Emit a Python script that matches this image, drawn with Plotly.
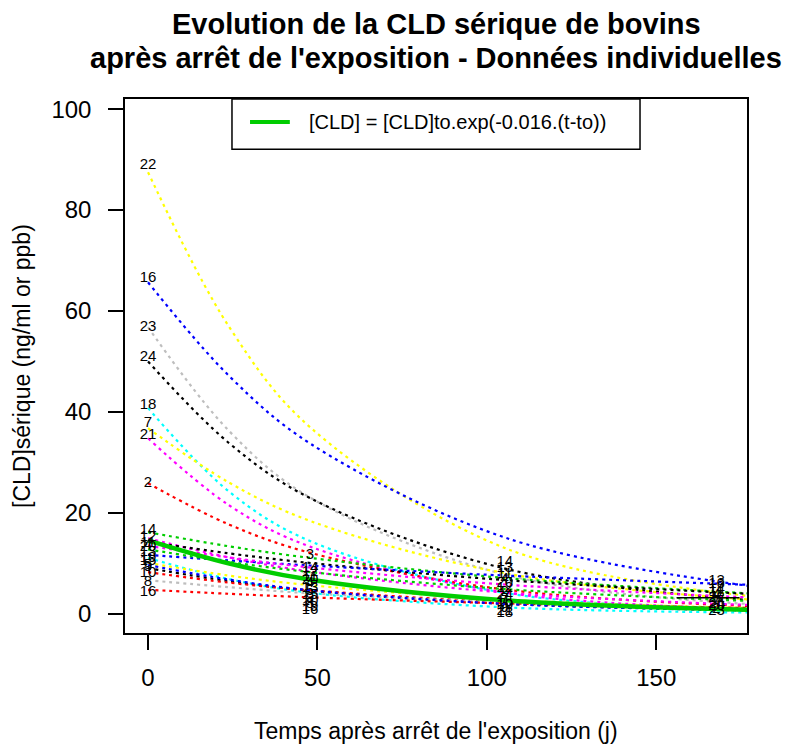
import plotly.graph_objects as go

FONT = "Liberation Sans, Arial, sans-serif"

# sampling times (days after end of exposure) used to trace each individual curve
times = [0, 24, 48, 106, 177]

animal_ids = ["22", "16", "23", "24", "18", "7", "21", "2",
              "14", "12", "11", "13", "19", "15", "9", "10", "8", "16", "5", "20", "4"]
animal_colors = ["#FFFF00", "#0000FF", "#BEBEBE", "#000000", "#00FFFF", "#FFFF00", "#FF00FF", "#FF0000",
                 "#00CD00", "#FF00FF", "#000000", "#0000FF", "#00FFFF", "#FFFF00", "#000000", "#FF0000",
                 "#BEBEBE", "#FF0000", "#0000FF", "#00CD00", "#FF00FF"]
conc_t0 = [87.5, 65.7, 56.8, 50.0, 40.8, 36.8, 34.8, 25.9,
           16.2, 15.0, 14.3, 11.7, 11.1, 10.1, 9.1, 8.3, 6.7, 4.8, 9.7, 12.8, 13.5]
conc_t24 = [56.8, 47.1, 36.2, 33.8, 24.2, 26.0, 21.5, 17.7,
            13.4, 11.2, 12.0, 10.6, 6.9, 7.6, 6.5, 6.2, 5.3, 4.0, 6.8, 10.3, 11.2]
conc_t48 = [36.9, 33.7, 23.0, 22.9, 14.4, 18.4, 13.3, 12.1,
            11.1, 8.4, 10.1, 9.6, 4.2, 5.7, 4.6, 4.7, 4.1, 3.3, 4.7, 8.3, 9.2]
conc_t106 = [12.9, 15.0, 7.7, 8.9, 4.1, 8.0, 4.2, 4.8,
             7.1, 4.2, 6.7, 7.6, 1.3, 2.8, 2.0, 2.3, 2.3, 2.1, 2.0, 4.9, 5.8]
conc_t177 = [3.6, 5.6, 2.0, 2.8, 0.9, 2.9, 1.0, 1.6,
             4.1, 1.8, 4.0, 5.8, 0.3, 1.2, 0.8, 1.0, 1.1, 1.2, 0.7, 2.6, 3.3]
label_y0 = [88.9, 66.5, 56.8, 50.9, 41.4, 37.8, 35.4, 25.9,
            16.6, 15.2, 14.0, 12.3, 11.0, 10.4, 9.2, 8.0, 6.2, 4.3, 9.6, 13.2, 13.6]

# population model [CLD] = [CLD]to.exp(-0.016.(t-to))
mean_conc = [14.6, 10.0, 6.8, 2.7, 0.86]

# labelled observations at the three later sampling dates
obs1_t = 47.8
obs1_ids = ["3", "14", "12", "11", "20", "4", "13", "5", "15", "9", "10", "8", "19", "16"]
obs1_y = [11.7, 9.0, 8.2, 7.3, 6.6, 6.0, 5.2, 4.5, 3.8, 3.1, 2.5, 1.9, 1.3, 0.7]
obs2_t = 105.3
obs2_ids = ["14", "13", "11", "4", "20", "12", "2", "24", "7", "15", "10", "9", "21", "18"]
obs2_y = [10.3, 9.0, 7.8, 6.8, 6.0, 5.2, 4.4, 3.7, 3.0, 2.4, 1.8, 1.2, 0.6, 0.2]
obs3_t = 167.8
obs3_ids = ["13", "16", "14", "11", "4", "22", "7", "24", "20", "2", "23"]
obs3_y = [6.5, 5.8, 5.0, 4.4, 3.8, 3.2, 2.6, 2.0, 1.5, 1.0, 0.5]
seg_t = [156, 174.6]
seg_y = [3.2, 3.2]

fig = go.Figure()

for i, aid in enumerate(animal_ids):
    ys = [conc_t0[i], conc_t24[i], conc_t48[i], conc_t106[i], conc_t177[i]]
    fig.add_trace(go.Scatter(
        x=times, y=ys, mode="lines", line_shape="spline",
        line=dict(color=animal_colors[i], width=2.2, dash="3px,4px"),
        showlegend=False, hoverinfo="skip",
    ))

fig.add_trace(go.Scatter(
    x=times, y=mean_conc, mode="lines", line_shape="spline",
    line=dict(color="#00CD00", width=4.5),
    name="[CLD] = [CLD]to.exp(-0.016.(t-to))", showlegend=False,
))

fig.add_trace(go.Scatter(x=seg_t, y=seg_y, mode="lines",
                         line=dict(color="black", width=1.5), showlegend=False))

label_font = dict(family=FONT, size=15, color="black")
fig.add_trace(go.Scatter(x=[0] * len(animal_ids), y=label_y0, mode="text",
                         text=animal_ids, textfont=label_font, showlegend=False))
for t, ids, ys in [(obs1_t, obs1_ids, obs1_y), (obs2_t, obs2_ids, obs2_y), (obs3_t, obs3_ids, obs3_y)]:
    fig.add_trace(go.Scatter(x=[t] * len(ids), y=ys, mode="text",
                             text=ids, textfont=label_font, showlegend=False))

axis_common = dict(
    showline=True, linecolor="black", linewidth=1.5, mirror=True,
    ticks="outside", ticklen=15, tickcolor="black", tickwidth=1.5,
    showgrid=False, zeroline=False,
    tickfont=dict(family=FONT, size=24, color="black"),
)
fig.update_xaxes(range=[-6.8, 176.8], tickvals=[0, 50, 100, 150],
                 ticklabelstandoff=7, **axis_common)
fig.update_yaxes(range=[-3.76, 102], tickvals=[0, 20, 40, 60, 80, 100],
                 ticklabelstandoff=12, **axis_common)

# legend box drawn on top of the plot area
fig.add_shape(type="rect", xref="paper", yref="paper", x0=0.172, x1=0.828, y0=0.906, y1=1.0,
              line=dict(color="black", width=1.5), fillcolor="white", layer="above")
fig.add_shape(type="line", xref="paper", yref="paper", x0=0.201, x1=0.265, y0=0.957, y1=0.957,
              line=dict(color="#00CD00", width=4), layer="above")

# the page body has an 8px margin, so the figure is shrunk by that amount
fig.update_layout(
    width=795, height=741,
    margin=dict(l=117, r=56, t=91, b=116),
    paper_bgcolor="white", plot_bgcolor="white",
    font=dict(family=FONT, color="black"),
    annotations=[
        dict(text="[CLD] = [CLD]to.exp(-0.016.(t-to))", xref="paper", yref="paper",
             x=0.293, y=0.957, xanchor="left", yanchor="middle", showarrow=False,
             font=dict(family=FONT, size=20, color="black")),
        dict(text="<b>Evolution de la CLD sérique de bovins</b>", xref="paper", yref="paper",
             x=0.5, y=1.1404, xanchor="center", yanchor="middle", showarrow=False,
             font=dict(family=FONT, size=29, color="black")),
        dict(text="<b>après arrêt de l'exposition - Données individuelles</b>", xref="paper", yref="paper",
             x=0.5, y=1.0768, xanchor="center", yanchor="middle", showarrow=False,
             font=dict(family=FONT, size=29, color="black")),
        dict(text="Temps après arrêt de l'exposition (j)", xref="paper", yref="paper",
             x=0.5, y=-0.1835, xanchor="center", yanchor="middle", showarrow=False,
             font=dict(family=FONT, size=23, color="black")),
        dict(text="[CLD]sérique (ng/ml or ppb)", xref="paper", yref="paper",
             x=-0.1656, y=0.5, xanchor="center", yanchor="middle", showarrow=False,
             textangle=-90, font=dict(family=FONT, size=23, color="black")),
    ],
)

fig.write_html("out.html")
